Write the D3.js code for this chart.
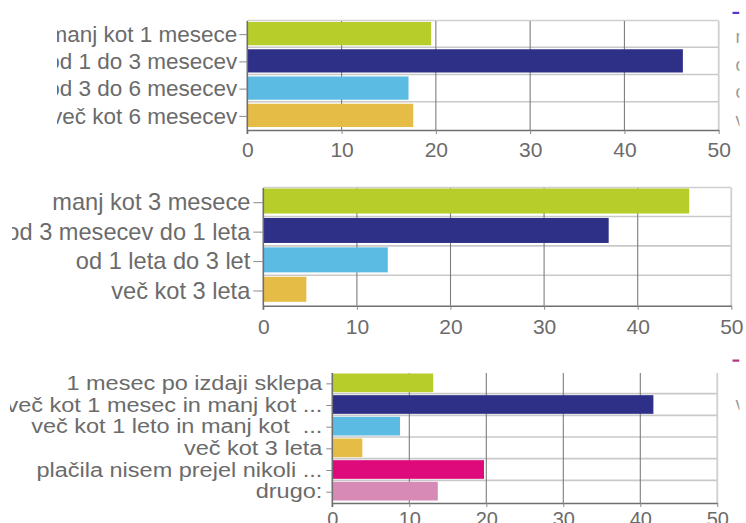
<!DOCTYPE html>
<html lang="sl">
<head>
<meta charset="utf-8">
<script src="https://cdn.jsdelivr.net/npm/d3@7"></script>
<style>
  body { margin: 0; background: #ffffff; }
  text { font-family: "Liberation Sans", Arial, sans-serif; fill: #6b6b6b; }
</style>
</head>
<body>
<script>
// data
var colors = ["#b7cd2a", "#2e3088", "#5bbbe3", "#e5bc45", "#de0a7c", "#d88ab7"];
var xTicks = [0, 10, 20, 30, 40, 50];

var p1Labels = ["manj kot 1 mesece", "od 1 do 3 mesecev", "od 3 do 6 mesecev", "več kot 6 mesecev"];
var p1Values = [19.5, 46.2, 17.1, 17.6];

var p2Labels = ["manj kot 3 mesece", "od 3 mesecev do 1 leta", "od 1 leta do 3 let", "več kot 3 leta"];
var p2Values = [45.5, 36.9, 13.3, 4.6];

var p3Labels = ["1 mesec po izdaji sklepa", "več kot 1 mesec in manj kot ...", "več kot 1 leto in manj kot\u00a0 ...",
                "več kot 3 leta", "plačila nisem prejel nikoli ...", "drugo:"];
var p3Values = [13.1, 41.7, 8.8, 3.9, 19.7, 13.7];

// cut-off legend pieces on the right edge
var p1Legend = ["manj", "od 1", "od 3", "več"];
var p3Legend = ["več"];

var W = 746, H = 523;

var svg = d3.select("body").append("svg")
  .attr("width", W)
  .attr("height", H);

var defs = svg.append("defs");

function drawPanel(id, cfg) {
  var x = d3.scaleLinear().domain([0, 50]).range([cfg.x0, cfg.x1]);
  var y = d3.scaleBand().domain(cfg.labels).range([cfg.y0, cfg.y1]);
  var step = y.step();
  var g = svg.append("g").attr("class", "panel " + id);

  // horizontal row lines + top / right border (light grey)
  g.selectAll(".row")
    .data(cfg.labels.slice(1))
    .enter().append("line")
    .attr("x1", cfg.x0).attr("x2", cfg.x1)
    .attr("y1", function(d) { return y(d) - 1; })
    .attr("y2", function(d) { return y(d) - 1; })
    .attr("stroke", "#c9c9c9").attr("stroke-width", 1.6);
  if (cfg.topBorder) {
    g.append("line")
      .attr("x1", cfg.x0).attr("x2", cfg.x1)
      .attr("y1", cfg.y0 - 0.5).attr("y2", cfg.y0 - 0.5)
      .attr("stroke", "#d0d0d0").attr("stroke-width", 1.4);
  }
  g.append("line")
    .attr("x1", x(50)).attr("x2", x(50))
    .attr("y1", cfg.y0).attr("y2", cfg.y1)
    .attr("stroke", "#cfcfcf").attr("stroke-width", 1.8);

  // vertical grid lines
  g.selectAll(".grid")
    .data(xTicks.slice(1, -1))
    .enter().append("line")
    .attr("x1", function(d) { return x(d); })
    .attr("x2", function(d) { return x(d); })
    .attr("y1", cfg.y0).attr("y2", cfg.y1)
    .attr("stroke", "#7d7d7d").attr("stroke-width", 1.1);

  // bars
  g.selectAll(".bar")
    .data(cfg.values)
    .enter().append("rect")
    .attr("x", x(0))
    .attr("y", function(d, i) { return y(cfg.labels[i]) + cfg.barTop; })
    .attr("width", function(d) { return x(d) - x(0); })
    .attr("height", step - cfg.barGap)
    .attr("fill", function(d, i) { return colors[i]; });

  // x axis
  var xAxis = g.append("g")
    .attr("transform", "translate(0," + cfg.y1 + ")")
    .call(d3.axisBottom(x).tickValues(xTicks).tickSize(4).tickPadding(cfg.tickPad).tickSizeOuter(0));
  xAxis.select(".domain").attr("stroke", "#6f6f6f").attr("stroke-width", 1.6);
  xAxis.selectAll(".tick line").attr("stroke", "#8a8a8a");
  xAxis.selectAll("text")
    .style("font-size", cfg.tickFont + "px")
    .style("fill", "#6b6b6b");

  // y axis with category labels, clipped on the left like the screenshot
  // (clip rect is in the axis group's own coordinates)
  defs.append("clipPath").attr("id", "clip-" + id)
    .append("rect").attr("x", cfg.clipX - cfg.x0).attr("y", 0).attr("width", W).attr("height", H);

  var yAxis = g.append("g")
    .attr("clip-path", "url(#clip-" + id + ")")
    .attr("transform", "translate(" + cfg.x0 + ",0)")
    .call(d3.axisLeft(y).tickSize(cfg.yTick).tickPadding(cfg.yPad).tickSizeOuter(0));
  yAxis.select(".domain").attr("stroke", "#6f6f6f").attr("stroke-width", 1.6)
    .attr("d", "M0," + cfg.y0 + "V" + (cfg.y1 + 4));
  yAxis.selectAll(".tick line").attr("stroke", "#8a8a8a");
  yAxis.selectAll("text")
    .style("font-size", cfg.labelFont + "px")
    .style("fill", "#6b6b6b")
    .attr("x", -(cfg.yTick + cfg.yPad) / cfg.stretch)
    .attr("transform", "scale(" + cfg.stretch + ",1)");

  // legend remains at the right edge
  defs.append("clipPath").attr("id", "lclip-" + id)
    .append("rect").attr("x", 0).attr("y", 0).attr("width", 739.5).attr("height", H);
  var lg = g.append("g").attr("clip-path", "url(#lclip-" + id + ")");
  lg.append("rect")
    .attr("x", 732.5).attr("y", cfg.dashY).attr("width", 7).attr("height", 2.2)
    .attr("fill", cfg.dashColor);
  lg.selectAll(".leg")
    .data(cfg.legend)
    .enter().append("text")
    .attr("x", 735.5)
    .attr("y", function(d, i) { return cfg.legendY + i * 27.5; })
    .style("font-size", "18px")
    .style("fill", "#9a9a9a")
    .text(function(d) { return d; });
}

drawPanel("p1", {
  labels: p1Labels, values: p1Values, legend: p1Legend,
  x0: 247.3, x1: 718.7, y0: 21, y1: 130,
  barTop: 1, barGap: 4, topBorder: true,
  clipX: 57, yTick: 8, yPad: 2, labelFont: 22.5, stretch: 1,
  tickFont: 21, tickPad: 8,
  dashY: 11.8, dashColor: "#5a35d6", legendY: 43
});

drawPanel("p2", {
  labels: p2Labels, values: p2Values, legend: [],
  x0: 263.3, x1: 731.3, y0: 188, y1: 305.7,
  barTop: 0.5, barGap: 4.4, topBorder: true,
  clipX: 12, yTick: 10, yPad: 3, labelFont: 23.6, stretch: 1,
  tickFont: 21, tickPad: 9,
  dashY: -10, dashColor: "none", legendY: 0
});

drawPanel("p3", {
  labels: p3Labels, values: p3Values, legend: p3Legend,
  x0: 332.3, x1: 717.3, y0: 373, y1: 503,
  barTop: 0.5, barGap: 3, topBorder: false,
  clipX: 10, yTick: 6, yPad: 4, labelFont: 19.5, stretch: 1.205,
  tickFont: 20, tickPad: 5,
  dashY: 359.5, dashColor: "#b0357a", legendY: 410
});
</script>
</body>
</html>
